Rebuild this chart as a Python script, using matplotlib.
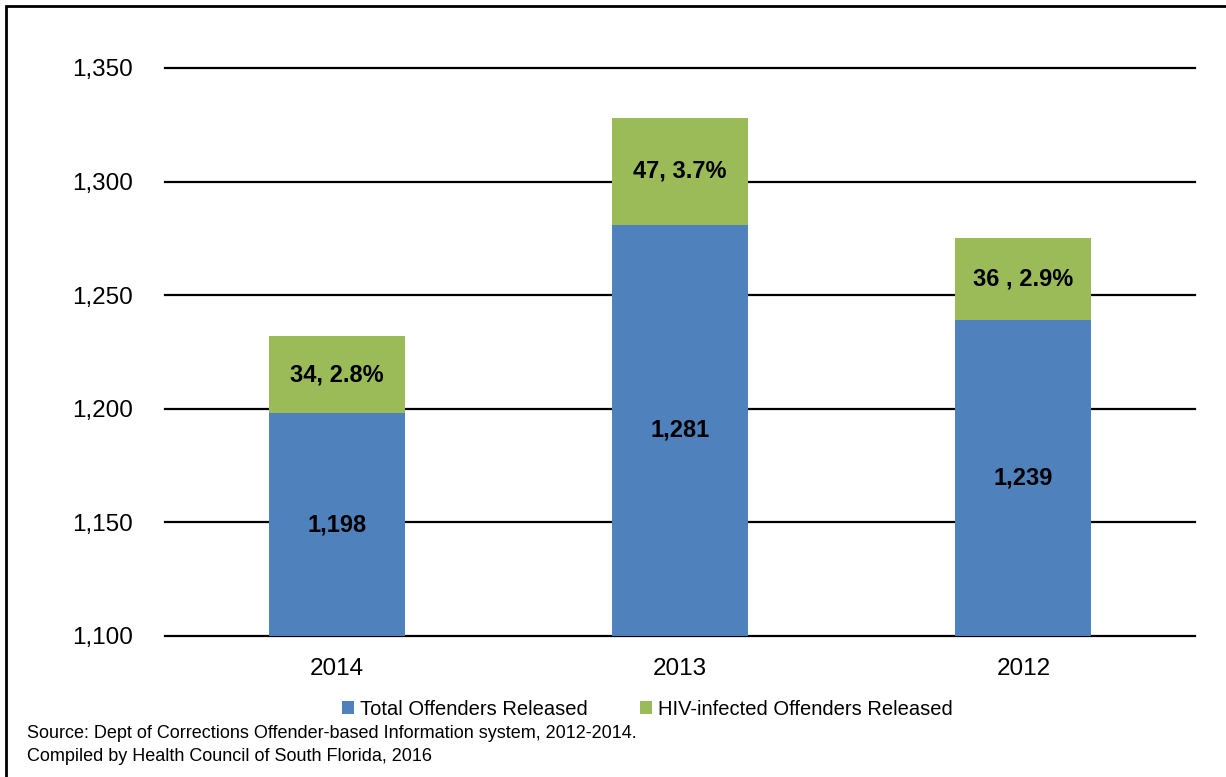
import matplotlib
matplotlib.use("Agg")
import matplotlib.pyplot as plt
from matplotlib.patches import Rectangle
from matplotlib.ticker import FuncFormatter

plt.rcParams['font.family'] = ['Liberation Sans Narrow', 'Liberation Sans', 'DejaVu Sans']

# ── Data ─────────────────────────────────────────────────────────────────────
years = ["2014", "2013", "2012"]
total_released = [1198, 1281, 1239]
hiv_released = [34, 47, 36]
hiv_pct = [2.8, 3.7, 2.9]
hiv_sep = [", ", ", ", " , "]
y_ticks = [1100, 1150, 1200, 1250, 1300, 1350]

BLUE = "#4F81BD"
GREEN = "#9BBB59"

fig = plt.figure(figsize=(12.26, 7.77), dpi=100)
ax = fig.add_axes([0.1346, 0.1815, 0.8401, 0.731])

x = range(len(years))
width = 0.396
ax.bar(x, total_released, width, bottom=0, color=BLUE, zorder=3,
       label="Total Offenders Released")
ax.bar(x, hiv_released, width, bottom=total_released, color=GREEN, zorder=3,
       label="HIV-infected Offenders Released")

ax.set_ylim(y_ticks[0], y_ticks[-1])
ax.set_xlim(-0.5, len(years) - 0.5)
ax.set_yticks(y_ticks)
ax.yaxis.set_major_formatter(FuncFormatter(lambda v, p: f"{int(v):,}"))
ax.set_xticks(list(x))
ax.set_xticklabels(years)
ax.tick_params(axis="both", length=0, labelsize=17.5, colors="black")
ax.tick_params(axis="y", pad=23)
ax.tick_params(axis="x", pad=16)

for s in ax.spines.values():
    s.set_visible(False)

# horizontal rules, drawn unclipped so the top and bottom ones keep full width
for v in y_ticks:
    ax.axhline(v, color="black", linewidth=1.6, zorder=1, clip_on=False)

# value labels inside each segment
for i in x:
    lo = y_ticks[0]
    ax.text(i, (lo + total_released[i]) / 2, f"{total_released[i]:,}",
            ha="center", va="center", fontsize=17, fontweight="bold", zorder=4)
    top = total_released[i] + hiv_released[i]
    ax.text(i, (total_released[i] + top) / 2,
            f"{hiv_released[i]}{hiv_sep[i]}{hiv_pct[i]}%",
            ha="center", va="center", fontsize=17, fontweight="bold", zorder=4)

leg = fig.legend(loc="center", bbox_to_anchor=(0.528, 0.087), ncol=2, frameon=False,
                 fontsize=14.5, handlelength=0.6, handleheight=0.6, handletextpad=0.3,
                 columnspacing=2.6)

fig.text(0.022, 0.056, "Source: Dept of Corrections Offender-based Information system, 2012-2014.",
         fontsize=13, va="center")
fig.text(0.022, 0.026, "Compiled by Health Council of South Florida, 2016",
         fontsize=13, va="center")

# outer frame
fig.patches.append(Rectangle((6 / 1226, -0.05), 1.2, 1 - 6 / 777 + 0.05,
                             transform=fig.transFigure, fill=False,
                             edgecolor="black", linewidth=2))

fig.savefig("out.png", dpi=100)
